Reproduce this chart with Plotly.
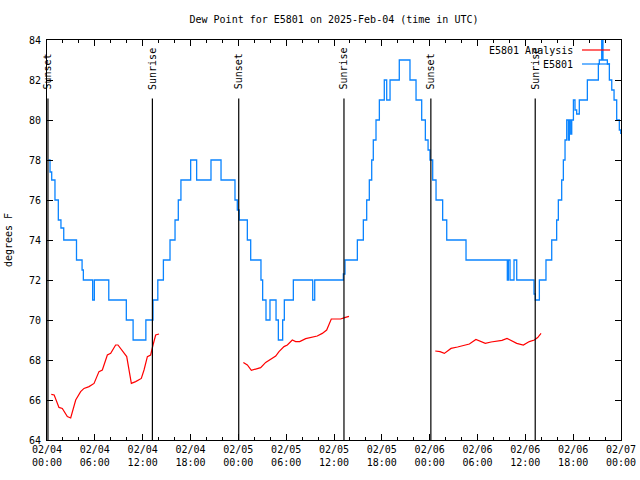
import pandas as pd
import plotly.graph_objects as go

# ---------------- data (hours after 2025-02-04 00:00 UTC) ----------------
blue_hours = [0.17, 0.38, 0.59, 1.0, 1.42, 1.75, 2.1, 3.7, 4.4, 4.56, 5.73, 5.94, 7.75, 9.95,
              10.8, 12.4, 13.3, 13.9, 14.6, 15.43, 16.06, 16.47, 16.8, 18.02, 18.77, 20.57,
              21.83, 23.58, 23.87, 24.12, 25.13, 25.55, 26.84, 27.05, 27.47, 27.97, 28.73,
              29.02, 29.56, 29.77, 30.9, 33.33, 33.58, 37.17, 37.38, 38.93, 39.68, 40.1,
              40.43, 40.73, 40.93, 41.27, 41.69, 42.31, 42.61, 43.03, 44.19, 45.53, 46.29,
              47.0, 47.46, 47.8, 48.04, 48.38, 48.8, 49.63, 50.14, 52.56, 57.74, 57.87,
              58.08, 58.58, 58.92, 61.09, 61.25, 61.76, 62.59, 63.31, 63.93, 64.14, 64.56,
              64.77, 64.98, 65.19, 65.4, 65.52, 65.69, 65.82, 66.03, 66.23, 66.44, 66.77,
              67.78, 69.16, 69.28, 69.58, 69.74, 70.29, 70.54, 70.84, 71.13, 71.46, 71.79,
              71.97]
blue_values = [78, 77.4, 77, 76, 75, 74.6, 74, 73, 72.5, 72, 71, 72, 71, 70,
               69, 70, 71, 72, 73, 74, 75, 76, 77, 78, 77, 78,
               77, 76, 75.5, 75, 74, 73, 72, 71, 70, 71, 70,
               69, 70, 71, 72, 71, 72, 72.3, 73, 74, 75, 76,
               77, 78, 79, 80, 81, 82, 81, 82, 83, 82, 81,
               80, 79, 78.5, 78, 77, 76, 75, 74, 73, 72, 73,
               72, 73, 72, 71.3, 71, 72, 73, 74, 75, 76, 77,
               78, 79, 80, 79, 80, 79.3, 80, 81, 80.5, 80.3, 81,
               82, 82.8, 83, 84, 83, 82.8, 82, 81.5, 81, 80, 79.5,
               79.3]

red1_hours = [0.54, 0.9, 1.5, 1.92, 2.55, 2.97, 3.6, 4.22, 4.64, 5.27, 5.9, 6.52, 6.94, 7.57,
              7.99, 8.61, 8.9, 9.66, 10.0, 10.58, 11.12, 11.83, 12.17, 12.59, 13.0, 13.3,
              13.63, 14.05]
red1_values = [66.28, 66.25, 65.63, 65.58, 65.17, 65.1, 66.0, 66.42, 66.58, 66.67, 66.83, 67.42,
               67.5, 68.25, 68.33, 68.75, 68.75, 68.33, 68.17, 66.83, 66.92, 67.08, 67.5, 68.17,
               68.25, 68.75, 69.25, 69.3]
red2_hours = [24.63, 25.13, 25.63, 26.18, 26.8, 27.43, 28.06, 28.69, 29.1, 29.73, 30.15, 30.77,
              31.19, 31.7, 32.45, 33.28, 33.9, 34.53, 35.08, 35.66, 36.2, 36.83, 37.34, 37.88]
red2_values = [67.88, 67.75, 67.48, 67.55, 67.62, 67.88, 68.03, 68.2, 68.42, 68.67, 68.75, 69.0,
               68.92, 68.92, 69.07, 69.13, 69.2, 69.33, 69.5, 70.05, 70.05, 70.05, 70.12, 70.18]
red3_hours = [48.7, 49.3, 49.84, 50.68, 51.5, 52.35, 52.98, 53.8, 54.32, 54.98, 55.7, 56.32,
              57.07, 57.7, 58.33, 58.92, 59.75, 60.5, 61.13, 61.55, 61.97]
red3_values = [68.45, 68.42, 68.33, 68.58, 68.65, 68.72, 68.8, 69.03, 68.95, 68.83, 68.9, 68.92,
               68.98, 69.08, 68.95, 68.83, 68.75, 68.92, 69.0, 69.12, 69.33]

event_labels = ["Sunset", "Sunrise", "Sunset", "Sunrise", "Sunset", "Sunrise"]
event_hours = [0.12, 13.22, 24.05, 37.25, 48.15, 61.24]

series_names = ["E5801 Analysis", "E5801"]
title_text = "Dew Point for E5801 on 2025-Feb-04 (time in UTC)"
y_label = "degrees F"

# ---------------- build ----------------
base = pd.Timestamp("2025-02-04 00:00")


def to_time(hours):
    return list(base + pd.to_timedelta(hours, unit="h"))


FONT = "DejaVu Sans Mono"
RED = "#ff0000"
BLUE = "#0a84ff"

fig = go.Figure()
for hrs, vals in [(red1_hours, red1_values), (red2_hours, red2_values), (red3_hours, red3_values)]:
    fig.add_trace(go.Scatter(x=to_time(hrs), y=vals, mode="lines",
                             line=dict(color=RED, width=1.2), name=series_names[0],
                             showlegend=False, hoverinfo="skip"))
fig.add_trace(go.Scatter(x=to_time(blue_hours), y=blue_values, mode="lines",
                         line=dict(color=BLUE, width=1.3, shape="hv"), name=series_names[1],
                         showlegend=False, hoverinfo="skip"))

shapes = []
annotations = []
for lab, t in zip(event_labels, to_time(event_hours)):
    shapes.append(dict(type="line", xref="x", yref="y", x0=t, x1=t, y0=64, y1=81.08,
                       line=dict(color="black", width=1.2)))
    annotations.append(dict(x=t, y=81.42, xref="x", yref="y", text=lab, textangle=-90,
                            xanchor="center", yanchor="bottom", showarrow=False,
                            font=dict(family=FONT, size=10, color="black")))

# legend drawn in gnuplot style (text then sample line)
leg_y = [0.975, 0.94]
leg_col = [RED, BLUE]
for name, yy, col in zip(series_names, leg_y, leg_col):
    annotations.append(dict(x=0.9195, y=yy, xref="paper", yref="paper", text=name,
                            xanchor="right", yanchor="middle", showarrow=False,
                            font=dict(family=FONT, size=10, color="black")))
    shapes.append(dict(type="line", xref="paper", yref="paper", x0=0.932, x1=0.981,
                       y0=yy, y1=yy, line=dict(color=col, width=1.2)))

fig.update_layout(
    width=640, height=480,
    margin=dict(l=47, r=19, t=40, b=40, autoexpand=False),
    paper_bgcolor="white", plot_bgcolor="white",
    font=dict(family=FONT, size=10, color="black"),
    title=dict(text=title_text, x=0.5, xref="paper", y=1 - 19 / 480, yanchor="middle",
               font=dict(family=FONT, size=10, color="black"), automargin=False),
    shapes=shapes, annotations=annotations, showlegend=False,
)
fig.update_xaxes(
    type="date", range=[base, base + pd.Timedelta(hours=72)], automargin=False,
    dtick=6 * 3600 * 1000, tick0=base, tickformat="%m/%d<br>%H:%M",
    ticks="inside", ticklen=6, tickcolor="black", tickwidth=1,
    minor=dict(dtick=2 * 3600 * 1000, ticks="inside", ticklen=3, tickcolor="black", showgrid=False),
    showline=True, linecolor="black", linewidth=1, mirror="ticks",
    showgrid=False, zeroline=False, tickfont=dict(family=FONT, size=10, color="black"),
)
fig.update_yaxes(
    range=[64, 84], dtick=2, ticks="inside", ticklen=6, tickcolor="black", tickwidth=1,
    automargin=False, ticklabelstandoff=3,
    showline=True, linecolor="black", linewidth=1, mirror="ticks",
    showgrid=False, zeroline=False, tickfont=dict(family=FONT, size=10, color="black"),
    title=dict(text=y_label, font=dict(family=FONT, size=10, color="black"), standoff=14),
)

fig.write_html(
    "out.html",
    config={"displayModeBar": False},
    post_script="document.body.style.margin='0';document.body.style.padding='0';",
)
